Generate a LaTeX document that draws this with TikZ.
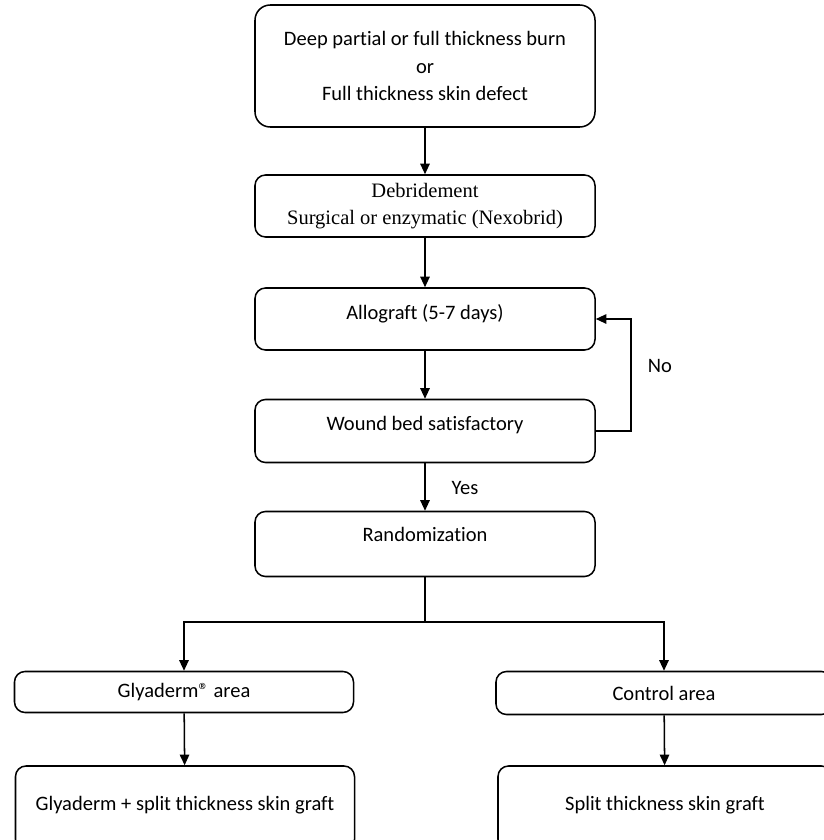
\documentclass[tikz,border=0pt]{standalone}
\usepackage{fontspec}
\setmainfont{Carlito}[Ligatures=NoCommon]
\newfontfamily\timesfont{Liberation Serif}
\usetikzlibrary{arrows.meta}
\tikzset{
	box/.style={draw, line width=1.3pt, rounded corners=9pt, align=center, font=\fontsize{17.5}{23.5}\selectfont},
	lift/.style={text depth=#1},
	arr/.style={line width=1.3pt, -{Triangle[length=9pt,width=8pt]}},
}

\begin{document}
\begin{tikzpicture}[x=0.03cm, y=-0.03cm]
	\useasboundingbox (0,0) rectangle (824,840);

	%main column
	\node[box, rounded corners=13pt, minimum width=10.2cm, minimum height=3.66cm] (burn) at (425,66) {Deep partial or full thickness burn\\or\\Full thickness skin defect};
	\node[box, font=\timesfont\fontsize{17.5}{22.5}\selectfont, minimum width=10.2cm, minimum height=1.86cm] (debr) at (425,206) {Debridement\\Surgical or enzymatic (Nexobrid)};
	\node[box, lift=0.45cm, minimum width=10.2cm, minimum height=1.86cm] (allo) at (425,319) {Allograft (5-7 days)};
	\node[box, lift=0.45cm, minimum width=10.2cm, minimum height=1.89cm] (wound) at (425,431) {Wound bed satisfactory};
	\node[box, lift=0.55cm, minimum width=10.2cm, minimum height=1.95cm] (rand) at (425,544) {Randomization};

	%two arms
	\node[box, minimum width=10.17cm, minimum height=1.23cm] (gly) at (184,692) {Glyaderm® area};
	\node[box, minimum width=10.08cm, minimum height=1.29cm] (ctrl) at (664,693) {Control area};
	\node[box, lift=0.3cm, minimum width=10.17cm, minimum height=2.52cm] (glystsg) at (185,808) {Glyaderm + split thickness skin graft};
	\node[box, lift=0.3cm, minimum width=10.02cm, minimum height=2.52cm] (stsg) at (665,808) {Split thickness skin graft};

	%labels
	\node[font=\fontsize{17.5}{21}\selectfont] (no) at (660,366) {No};
	\node[font=\fontsize{17.5}{21}\selectfont] (yes) at (465,488) {Yes};

	%arrows
	\draw[arr] (burn) -- (debr);
	\draw[arr] (debr) -- (allo);
	\draw[arr] (allo) -- (wound);
	\draw[arr] (wound) -- (rand);
	\draw[arr] (wound.east) -- ++(35,0) |- (allo.east);
	\coordinate (fork) at (425,622);
	\draw[line width=1.3pt] (rand) -- (fork);
	\foreach \arm in {gly,ctrl}{
		\draw[arr] (fork) -| (\arm);
	}
	\draw[arr] (gly) -- (glystsg);
	\draw[arr] (ctrl) -- (stsg);
\end{tikzpicture}
\end{document}
